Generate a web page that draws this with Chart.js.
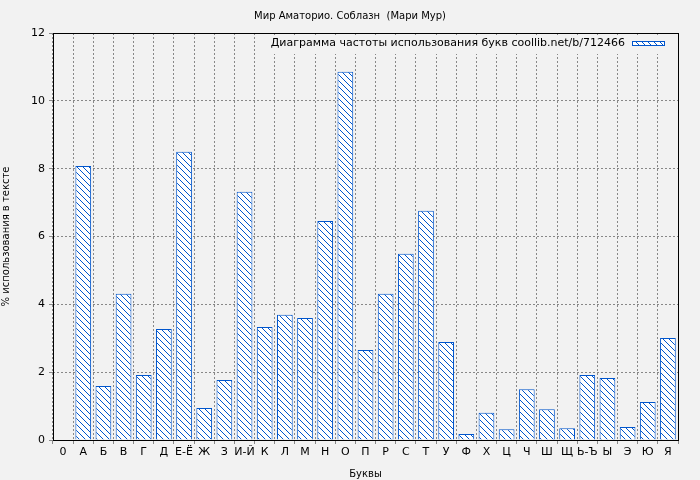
<!DOCTYPE html>
<html>
<head>
<meta charset="utf-8">
<script src="https://cdn.jsdelivr.net/npm/chart.js@4"></script>
<style>
  body { margin: 0; background: #f2f2f2; }
  #wrap { width: 700px; height: 480px; }
</style>
</head>
<body>
<div id="wrap"><canvas id="myChart" width="700" height="480"></canvas></div>
<script>
const letters = ['0', 'А', 'Б', 'В', 'Г', 'Д', 'Е-Ё', 'Ж', 'З', 'И-Й', 'К', 'Л', 'М', 'Н', 'О', 'П',
    'Р', 'С', 'Т', 'У', 'Ф', 'Х', 'Ц', 'Ч', 'Ш', 'Щ', 'Ь-Ъ', 'Ы', 'Э', 'Ю', 'Я'];
const percents = [8.08, 1.59, 4.31, 1.92, 3.27, 8.5, 0.94, 1.77, 7.32, 3.33, 3.69, 3.6, 6.46, 10.86, 2.65,
    4.31, 5.49, 6.76, 2.89, 0.18, 0.8, 0.32, 1.5, 0.91, 0.35, 1.92, 1.83, 0.38, 1.12, 3.01];
const yTicks = [0, 2, 4, 6, 8, 10, 12];
const titleText = 'Мир Аматорио. Соблазн  (Мари Мур)';
const legendText = 'Диаграмма частоты использования букв coollib.net/b/712466';

// hatch pattern
function makeHatch() {
    const c = document.createElement('canvas');
    c.width = 6; c.height = 6;
    const g = c.getContext('2d');
    g.fillStyle = '#ffffff';
    g.fillRect(0, 0, 6, 6);
    g.strokeStyle = '#0055cc';
    g.lineWidth = 1;
    g.beginPath();
    g.moveTo(0, 0); g.lineTo(6, 6);
    g.moveTo(-3, 3); g.lineTo(3, 9);
    g.moveTo(3, -3); g.lineTo(9, 3);
    g.stroke();
    return g.createPattern(c, 'repeat');
}
const hatch = makeHatch();

const decor = {
    id: 'decor',
    beforeDraw(chart) {
        const ctx = chart.ctx;
        ctx.save();
        ctx.fillStyle = '#f2f2f2';
        ctx.fillRect(0, 0, chart.width, chart.height);
        ctx.restore();
    },
    afterDraw(chart) {
        const ctx = chart.ctx;
        const a = chart.chartArea;
        ctx.save();
        ctx.strokeStyle = '#000';
        ctx.lineWidth = 1;
        ctx.strokeRect(a.left + 0.5, a.top + 0.5, a.right - a.left, a.bottom - a.top);
        ctx.fillStyle = '#000';
        ctx.font = '10px "DejaVu Sans"';
        ctx.textAlign = 'center';
        ctx.textBaseline = 'middle';
        ctx.fillText(titleText, chart.width / 2, 16);
        // legend
        ctx.font = '11px "DejaVu Sans"';
        ctx.textAlign = 'right';
        const tx = a.right - 53;
        const tw = ctx.measureText(legendText).width;
        ctx.fillStyle = '#f2f2f2';
        ctx.fillRect(tx - tw - 6, a.top + 3, a.right - (tx - tw - 6) - 4, 18);
        ctx.fillStyle = '#000';
        ctx.fillText(legendText, tx, a.top + 10);
        ctx.fillStyle = hatch;
        ctx.fillRect(a.right - 46, a.top + 8, 32, 5);
        ctx.strokeStyle = '#0055cc';
        ctx.strokeRect(a.right - 46 + 0.5, a.top + 8 + 0.5, 32, 4);
        ctx.restore();
    }
};

const config = {
    type: 'bar',
    data: {
        datasets: [{
            data: percents.map((v, i) => ({ x: i + 1, y: v })),
            backgroundColor: hatch,
            borderColor: '#0055cc',
            borderWidth: 1,
            barPercentage: 0.78,
            categoryPercentage: 1
        }]
    },
    options: {
        responsive: false,
        animation: false,
        layout: { padding: { top: 33, right: 22, left: 0, bottom: 0 } },
        plugins: { legend: { display: false }, tooltip: { enabled: false } },
        scales: {
            x: {
                type: 'linear',
                min: 0, max: 30,
                afterFit: s => { s.height = 40; },
                afterBuildTicks: s => { s.ticks = letters.map((l, i) => ({ value: i })); },
                ticks: {
                    autoSkip: false, maxRotation: 0, color: '#000', padding: 2,
                    font: { family: 'DejaVu Sans', size: 11 },
                    callback: v => letters[v]
                },
                grid: { color: '#888', tickLength: 4, drawTicks: true },
                border: { display: false, dash: [2, 2] },
                title: { display: true, text: 'Буквы', color: '#000', font: { family: 'DejaVu Sans', size: 10 }, padding: 0 }
            },
            y: {
                min: 0, max: 12,
                afterFit: s => { s.width = 53; },
                afterBuildTicks: s => { s.ticks = yTicks.map(v => ({ value: v })); },
                ticks: { color: '#000', font: { family: 'DejaVu Sans', size: 11 }, padding: 4 },
                grid: { color: '#888', tickLength: 4 },
                border: { display: false, dash: [2, 2] },
                title: { display: true, text: '% использования в тексте', color: '#000', font: { family: 'DejaVu Sans', size: 10 }, padding: 0 }
            }
        }
    },
    plugins: [decor]
};

const myChart = new Chart(document.getElementById('myChart'), config);
</script>
</body>
</html>
